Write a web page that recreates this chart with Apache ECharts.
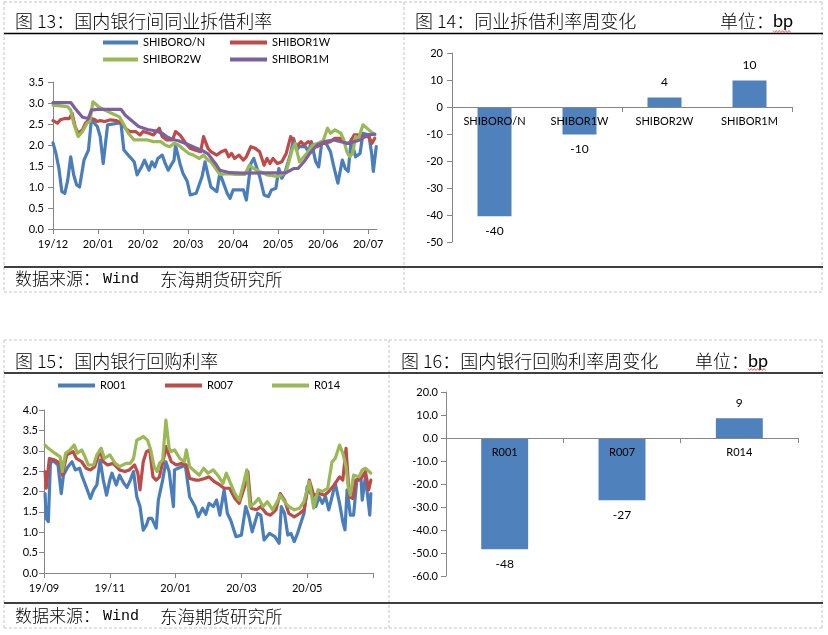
<!DOCTYPE html>
<html><head><meta charset="utf-8">
<script src="https://cdn.jsdelivr.net/npm/echarts@6/dist/echarts.min.js"></script>
<style>html,body{margin:0;padding:0;background:#fff}#c{width:828px;height:635px}</style>
</head><body><div id="c"></div>
<script>
// ---------- texts ----------
const title13 = '图 13：国内银行间同业拆借利率';
const title14 = '图 14：同业拆借利率周变化';
const title15 = '图 15：国内银行回购利率';
const title16 = '图 16：国内银行回购利率周变化';
const unitText = '单位：';
const unitBp = 'bp';
const sourceA = '数据来源：';
const sourceW = 'Wind';
const sourceB = '东海期货研究所';

// ---------- chart 13: SHIBOR (x = position along date axis, label every 30.5) ----------
const labels13 = ['19/12','20/01','20/02','20/03','20/04','20/05','20/06','20/07'];
const onX = [0,2,4,6,8,10,12,14,16,18,21,24,26,30,32,34,37,46,48,51,55,57,60,62,65,67,69,71,74,76,78,82,83,86,88,91,93,97,101,103,105,107,111,113,118,120,122,129,131,134,136,140,143,146,148,151,153,155,157,161,163,165,167,171,173,175,178,180,182,185,188,190,193,196,198,200,202,205,208,210,214,216,217,219];
const onY = [2.05,1.8,1.44,0.89,0.85,1.17,1.72,1.29,1.05,1.0,1.64,1.88,2.6,2.44,2.2,1.56,2.48,2.53,1.88,1.76,1.6,1.29,1.48,1.64,1.4,1.6,1.48,1.68,1.76,1.56,1.4,1.64,2.0,1.56,1.33,1.13,0.81,0.85,1.25,1.6,1.29,1.0,0.89,1.33,0.85,0.73,0.93,0.93,0.69,1.56,1.68,1.25,0.81,0.77,0.93,0.97,1.44,1.21,1.33,1.8,2.16,1.88,1.96,1.96,1.84,2.08,1.6,1.48,2.04,2.04,1.84,1.52,1.09,1.64,1.44,1.37,2.12,1.72,1.8,2.28,2.24,1.76,1.37,1.96];
const w1X = [0,3,5,8,11,13,15,17,20,22,25,28,30,32,35,39,43,47,49,52,56,59,61,65,68,72,74,77,81,83,86,90,93,96,100,102,105,107,109,111,114,117,119,121,123,126,129,131,134,137,140,143,145,147,149,152,155,158,161,163,165,168,170,173,175,179,182,184,188,191,195,198,201,204,207,210,214,216,218];
const w1Y = [2.58,2.52,2.6,2.63,2.63,2.75,2.44,2.28,2.36,2.52,2.63,2.61,2.56,2.58,2.56,2.6,2.58,2.52,2.4,2.32,2.32,2.24,2.32,2.28,2.24,2.4,2.2,2.12,2.12,2.32,2.24,2.04,1.92,1.88,1.84,2.2,1.92,1.84,1.8,1.76,1.84,1.88,1.72,1.8,1.68,1.76,1.64,1.72,1.96,1.92,1.84,1.52,1.68,1.56,1.68,1.56,1.6,1.8,2.2,2.08,1.96,2.08,2.0,2.08,2.04,1.96,2.04,2.04,2.08,2.16,2.16,2.04,2.04,2.24,2.24,2.2,2.2,2.04,2.16];
const w2X = [0,5,10,12,14,17,20,23,25,27,31,35,40,45,48,51,55,59,64,68,73,76,79,82,85,89,92,95,99,102,105,107,110,113,118,124,130,133,136,140,145,152,155,158,162,164,167,172,176,180,183,186,188,191,195,197,199,201,203,205,207,210,214,218];
const w2Y = [2.95,2.93,2.91,2.83,2.52,2.2,2.32,2.52,2.56,3.03,2.91,2.83,2.75,2.67,2.48,2.28,2.12,2.12,2.12,2.08,2.08,2.0,1.96,2.04,2.0,1.88,1.8,1.76,1.68,1.76,1.64,1.6,1.45,1.3,1.32,1.3,1.3,1.52,1.44,1.37,1.29,1.25,1.29,1.37,1.88,2.04,1.6,1.8,2.0,2.05,2.1,2.4,2.28,2.36,2.28,2.12,1.84,1.72,1.8,2.2,2.16,2.48,2.36,2.24];
const m1X = [0,12,15,20,24,26,30,46,49,54,58,64,69,74,77,81,85,91,96,101,105,108,110,113,120,129,158,163,166,170,174,179,184,190,195,199,204,208,213,218];
const m1Y = [3.01,3.01,2.87,2.66,2.63,2.83,2.85,2.85,2.71,2.56,2.44,2.37,2.34,2.28,2.2,2.13,2.1,2.02,1.94,1.87,1.79,1.65,1.56,1.4,1.34,1.33,1.34,1.44,1.44,1.6,1.8,2.0,2.08,2.12,2.08,2.04,2.08,2.12,2.24,2.26];

// ---------- chart 14 ----------
const cats14 = ['SHIBORO/N','SHIBOR1W','SHIBOR2W','SHIBOR1M'];
const vals14 = [-40.5,-10.2,3.5,9.8];

// ---------- chart 15: repo rates (x = position along date axis, label every 61) ----------
const labels15 = ['19/09','19/11','20/01','20/03','20/05'];
const r001X = [1,2,4,6,10,13,16,18,22,26,29,33,35,39,43,46,49,52,55,58,61,63,67,70,74,77,80,83,86,89,92,95,97,100,104,106,110,113,116,120,121,127,131,135,140,143,147,150,153,157,160,163,167,170,173,178,183,187,190,193,198,201,204,209,214,218,220,223,226,229,232,235,238,241,244,249,252,255,258,261,264,267,270,274,277,279,281,284,287,290,294,295,298,302,303];
const r001Y = [1.95,1.34,1.26,2.73,2.73,2.65,1.95,2.4,2.6,2.73,2.53,2.57,2.4,2.12,1.83,2.04,2.16,2.77,2.28,1.91,2.28,2.45,2.16,2.4,2.2,2.1,2.28,2.49,1.87,1.63,1.05,1.18,1.34,1.34,1.1,1.79,2.28,2.73,2.49,1.63,2.53,2.6,2.65,1.87,1.63,1.38,1.59,1.44,1.71,1.63,1.79,1.42,2.04,1.46,1.3,0.89,0.93,1.63,1.38,1.01,1.46,1.42,0.81,0.97,0.89,0.73,1.63,1.46,0.93,0.97,0.77,0.97,1.22,1.46,2.12,1.87,1.63,1.87,1.71,1.87,1.55,1.87,2.2,1.71,1.26,1.06,2.04,1.42,1.42,2.28,2.28,1.79,2.36,1.42,1.95];
const r007X = [1,2,5,10,15,17,21,27,30,35,39,43,47,52,55,59,64,70,75,79,84,87,89,92,95,98,101,104,107,112,113,118,123,127,132,135,141,144,149,153,158,163,167,172,177,181,186,189,192,197,201,206,210,215,219,223,227,232,237,241,246,250,255,260,264,269,274,277,280,283,286,289,294,298,301,303];
const r007Y = [2.49,2.08,2.81,2.77,2.69,2.4,2.9,2.98,2.81,2.73,2.57,2.53,2.61,3.02,2.73,2.65,2.69,2.53,2.49,2.53,2.65,2.45,2.04,2.73,2.98,3.02,2.36,2.28,2.36,2.94,3.1,2.73,2.65,2.69,2.65,2.32,2.28,2.28,2.32,2.36,2.24,2.16,2.08,2.08,1.83,1.71,2.12,2.49,1.59,1.55,1.63,1.46,1.42,1.55,1.95,1.79,1.46,1.38,1.46,1.55,2.28,1.91,1.95,1.91,2.0,2.16,2.36,2.28,3.06,1.87,1.83,2.28,2.32,2.49,2.04,2.28];
const r014X = [1,4,10,15,17,20,24,28,31,35,38,41,46,49,53,56,61,66,70,76,80,83,86,89,92,96,99,102,105,107,110,113,116,118,121,126,130,132,135,140,144,148,152,157,161,166,169,173,177,181,185,188,191,195,199,203,207,212,217,219,223,227,232,237,241,246,250,254,258,263,267,270,274,277,280,282,284,287,292,295,298,303];
const r014Y = [3.14,3.06,2.94,2.85,2.49,2.94,3.02,3.14,2.94,3.02,2.85,2.65,2.65,2.9,3.06,2.81,2.9,2.69,2.61,2.69,2.69,2.81,3.26,3.3,3.35,3.26,3.02,2.61,2.49,2.69,2.77,3.75,3.06,2.98,3.02,2.81,2.73,3.02,2.61,2.49,2.4,2.57,2.45,2.53,2.4,2.2,2.45,2.2,1.95,1.79,2.2,2.53,1.63,1.71,1.83,1.63,1.75,1.55,1.79,1.91,1.75,1.63,1.55,1.59,1.75,2.24,1.59,2.04,2.0,2.08,2.73,2.81,3.14,2.94,2.61,2.12,1.91,2.4,2.36,2.53,2.57,2.45];

// ---------- chart 16 ----------
const cats16 = ['R001','R007','R014'];
const vals16 = [-48.4,-27.1,8.6];

// ---------- style ----------
const AX = '#868686';
const LAT = 'Lato, "Liberation Sans", sans-serif';
const CJK = '"Noto Sans CJK SC", sans-serif';
const C_BLUE = '#4A7EBB', C_RED = '#BE4B48', C_GREEN = '#98B954', C_PURPLE = '#7D60A0', C_BAR = '#4F81BD';

const zip = (xs, ys) => xs.slice(0, Math.min(xs.length, ys.length)).map((x, i) => [x, ys[i]]);
const lbl = {fontFamily: LAT, fontSize: 11, color: '#000'};

function lineXAxis(g, step, nLabels, nTicks, max, labels) {
  const ticks = [], labs = [];
  for (let i = 0; i < nTicks; i++) ticks.push(i * step);
  for (let i = 0; i < nLabels; i++) labs.push(i * step);
  return {type: 'value', gridIndex: g, min: 0, max: max, splitLine: {show: false},
    axisLine: {show: true, lineStyle: {color: AX, width: 1}},
    axisTick: {show: true, customValues: ticks, length: 5, lineStyle: {color: AX}},
    axisLabel: Object.assign({customValues: labs, margin: 10,
      formatter: v => labels[Math.round(v / step)] || ''}, lbl)};
}
function valYAxis(g, min, max, interval, digits, margin) {
  return {type: 'value', gridIndex: g, min: min, max: max, interval: interval,
    splitLine: {show: false},
    axisLine: {show: true, lineStyle: {color: AX, width: 1}},
    axisTick: {show: true, length: 5, lineStyle: {color: AX}},
    axisLabel: Object.assign({margin: margin, formatter: v => v.toFixed(digits)}, lbl)};
}
function catXAxis(g, cats) {
  return {type: 'category', gridIndex: g, data: cats, z: 10,
    axisLine: {show: true, onZero: true, lineStyle: {color: AX, width: 1}},
    axisTick: {show: true, length: 5, lineStyle: {color: AX}},
    axisLabel: {show: false}};
}
function lineSeries(name, g, data, color) {
  return {name: name, type: 'line', xAxisIndex: g, yAxisIndex: g, data: data,
    showSymbol: false, symbol: 'none', animation: false,
    lineStyle: {color: color, width: 3.2, cap: 'round', join: 'round'},
    itemStyle: {color: color}};
}
function barSeries(g, vals) {
  return {type: 'bar', xAxisIndex: g, yAxisIndex: g, barWidth: '40%', animation: false,
    itemStyle: {color: C_BAR},
    data: vals.map(v => ({value: v, label: {position: v < 0 ? 'bottom' : 'top'}})),
    label: {show: true, distance: 9, formatter: p => String(Math.round(p.value)),
      fontFamily: LAT, fontSize: 12, color: '#000'}};
}
// zero-height helper series: writes the category names next to the zero line, over the bars
function catLabelSeries(g, cats) {
  return {type: 'bar', xAxisIndex: g, yAxisIndex: g, barWidth: '40%', barGap: '-100%',
    animation: false, silent: true, z: 5,
    itemStyle: {color: 'rgba(0,0,0,0)'},
    data: cats.map(() => 0),
    label: {show: true, position: 'bottom', distance: 9, formatter: p => p.name,
      fontFamily: LAT, fontSize: 11, color: '#000'}};
}
function legendItem(name, left, top, w) {
  return {data: [name], left: left, top: top, padding: 0, icon: 'rect',
    itemWidth: w, itemHeight: 4, selectedMode: false,
    textStyle: {fontFamily: LAT, fontSize: 11, color: '#000'}};
}
function txt(t, x, y, size, fam, weight) {
  return {type: 'text', silent: true, style: {text: t, x: x, y: y, fill: '#000',
    font: (weight || 'normal') + ' ' + size + 'px ' + (fam || CJK), verticalAlign: 'middle'}};
}
function hline(x1, x2, y, dash) {
  return {type: 'line', silent: true, shape: {x1: x1, y1: y, x2: x2, y2: y},
    style: dash ? {stroke: '#c4c4c4', lineWidth: 1, lineDash: [3, 2]} : {stroke: '#000', lineWidth: 1.3}};
}
function vline(x, y1, y2) {
  return {type: 'line', silent: true, shape: {x1: x, y1: y1, x2: x, y2: y2},
    style: {stroke: '#c4c4c4', lineWidth: 1, lineDash: [3, 2]}};
}
function wavy(x1, x2, y) {
  const pts = [];
  for (let x = x1, i = 0; x <= x2; x += 1.6, i++) pts.push([x, y + (i % 2 ? 1 : -1)]);
  return {type: 'polyline', silent: true, shape: {points: pts}, style: {stroke: '#e23a3a', lineWidth: 0.8, fill: null}};
}

const option = {
  animation: false,
  backgroundColor: '#fff',
  grid: [
    {left: 53, top: 82, width: 324, height: 147, outerBoundsMode: 'none'},
    {left: 452, top: 53, width: 340, height: 189, outerBoundsMode: 'none'},
    {left: 44, top: 410, width: 329, height: 163, outerBoundsMode: 'none'},
    {left: 446, top: 392, width: 352, height: 184, outerBoundsMode: 'none'}
  ],
  xAxis: [
    lineXAxis(0, 30.5, 8, 8, 219.5, labels13),
    catXAxis(1, cats14),
    lineXAxis(2, 61, 5, 6, 305, labels15),
    catXAxis(3, cats16)
  ],
  yAxis: [
    valYAxis(0, 0, 3.5, 0.5, 1, 9),
    valYAxis(1, -50, 20, 10, 0, 9),
    valYAxis(2, 0, 4, 0.5, 1, 6),
    valYAxis(3, -60, 20, 10, 1, 8)
  ],
  legend: [
    legendItem('SHIBORO/N', 103, 37, 35),
    legendItem('SHIBOR1W', 230, 37, 37),
    legendItem('SHIBOR2W', 103, 54, 35),
    legendItem('SHIBOR1M', 230, 54, 37),
    legendItem('R001', 58, 380, 37),
    legendItem('R007', 165, 380, 37),
    legendItem('R014', 272, 380, 37)
  ],
  series: [
    lineSeries('SHIBORO/N', 0, zip(onX, onY), C_BLUE),
    lineSeries('SHIBOR1W', 0, zip(w1X, w1Y), C_RED),
    lineSeries('SHIBOR2W', 0, zip(w2X, w2Y), C_GREEN),
    lineSeries('SHIBOR1M', 0, zip(m1X, m1Y), C_PURPLE),
    barSeries(1, vals14),
    catLabelSeries(1, cats14),
    lineSeries('R001', 2, zip(r001X, r001Y), C_BLUE),
    lineSeries('R007', 2, zip(r007X, r007Y), C_RED),
    lineSeries('R014', 2, zip(r014X, r014Y), C_GREEN),
    barSeries(3, vals16),
    catLabelSeries(3, cats16)
  ],
  graphic: [
    // dashed frames
    hline(4, 822, 2, true), hline(4, 822, 292, true), vline(4, 2, 292), vline(404, 2, 292), vline(822, 2, 292),
    hline(4, 822, 340, true), hline(4, 822, 628, true), vline(4, 340, 628), vline(389, 340, 628), vline(822, 340, 628),
    // solid rules
    hline(4, 823, 33.5), hline(4, 823, 267), hline(4, 823, 373), hline(4, 823, 603),
    // titles
    txt(title13, 15, 21, 18, CJK, 300), txt(title14, 415, 21, 18, CJK, 300),
    txt(unitText, 720, 21, 18, CJK, 300), txt(unitBp, 773, 21, 18, LAT),
    txt(title15, 15, 361, 18, CJK, 300), txt(title16, 401, 361, 18, CJK, 300),
    txt(unitText, 695, 361, 18, CJK, 300), txt(unitBp, 748, 361, 18, LAT),
    wavy(773, 791, 31.5), wavy(748, 766, 369.5),
    // sources
    txt(sourceA, 15, 279, 17, CJK, 300), txt(sourceW, 103, 279, 15, '"Liberation Mono", monospace'), txt(sourceB, 160, 279, 17.5, CJK, 300),
    txt(sourceA, 15, 616, 17, CJK, 300), txt(sourceW, 103, 616, 15, '"Liberation Mono", monospace'), txt(sourceB, 160, 616, 17.5, CJK, 300)
  ]
};
const chart = echarts.init(document.getElementById('c'), null, {renderer: 'canvas'});
chart.setOption(option);
</script>
</body></html>
